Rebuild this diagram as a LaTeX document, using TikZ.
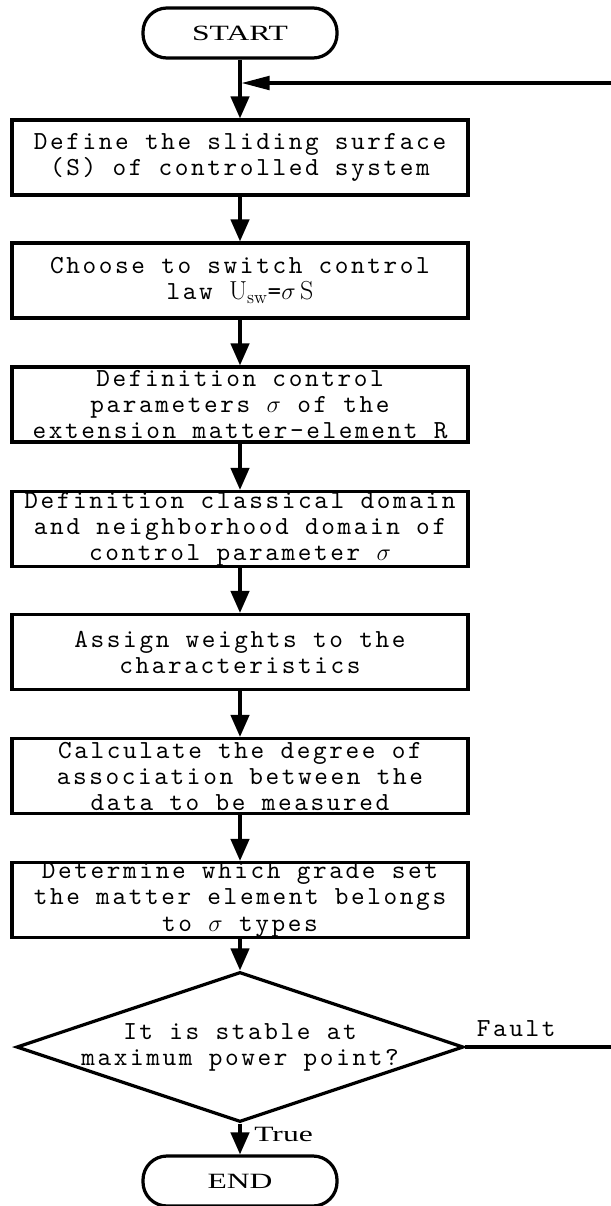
\documentclass[tikz,border=0pt]{standalone}
\usepackage{fontspec}
\usetikzlibrary{shapes.geometric,arrows.meta}
\newfontfamily\termfont[FakeStretch=1.45]{Liberation Serif}
\newfontfamily\boxfont[Extension=.otf,LetterSpace=10]{lmmono10-regular}
\tikzset{
  flow/.style={line width=2.3pt,-{Triangle[length=0.55cm,width=0.46cm]}},
  backflow/.style={line width=2.3pt,-{Triangle[length=0.7cm,width=0.34cm]}},
  plain/.style={line width=2.3pt},
  stepbox/.style={draw,line width=2.3pt,minimum width=11.4cm,minimum height=1.875cm,
    inner sep=0pt,align=center,font={\boxfont\fontsize{18.5pt}{18.5pt}\selectfont}},
  termbox/.style={draw,line width=2.3pt,rounded corners=0.6cm,minimum width=4.85cm,
    minimum height=1.25cm,inner sep=0pt,font={\termfont\fontsize{15.5pt}{18pt}\selectfont}},
  checkbox/.style={draw,diamond,line width=2.3pt,minimum width=11.175cm,minimum height=3.75cm,inner sep=0pt},
  monolabel/.style={inner sep=0pt,align=center,font={\boxfont\fontsize{18.5pt}{18.5pt}\selectfont}},
  termlabel/.style={inner sep=0pt,font={\termfont\fontsize{15.5pt}{18pt}\selectfont}}
}
\begin{document}
\begin{tikzpicture}[x=0.025cm,y=-0.025cm]
  \useasboundingbox (0,0) rectangle (611,1206);
  % nodos del diagrama
  \node[termbox] (start) at (240,33) {START};
  \node[stepbox] (surface) at (240,157.5) {Define the sliding surface\\(S) of controlled system};
  \node[stepbox] (law) at (240,280.5) {Choose to switch control\\law {\rmfamily U\textsubscript{sw}}=$\sigma$\,{\rmfamily S}};
  \node[stepbox] (param) at (240,404.5) {Definition control\\parameters $\sigma$ of the\\extension matter-element R};
  \node[stepbox] (domain) at (240,529) {Definition classical domain\\and neighborhood domain of\\control parameter $\sigma$};
  \node[stepbox] (weight) at (240,652) {Assign weights to the\\characteristics};
  \node[stepbox] (degree) at (240,776) {Calculate the degree of\\association between the\\data to be measured};
  \node[stepbox] (grade) at (240,900) {Determine which grade set\\the matter element belongs\\to $\sigma$ types};
  \node[checkbox] (check) at (240,1047) {};
  \node[monolabel] (checktext) at (240,1047) {It is stable at\\maximum power point?};
  \node[termbox] (end) at (240,1181) {END};
  \coordinate (merge) at (241.5,83);
  \coordinate (backin) at (611,83);
  \coordinate (faultout) at (611,1047);
  % flechas
  \draw[flow] (start) -- (surface);
  \draw[backflow] (backin) -- (merge);
  \draw[flow] (surface) -- (law);
  \draw[flow] (law) -- (param);
  \draw[flow] (param) -- (domain);
  \draw[flow] (domain) -- (weight);
  \draw[flow] (weight) -- (degree);
  \draw[flow] (degree) -- (grade);
  \draw[flow] (grade) -- (check);
  \draw[flow] (check) -- node[termlabel,right,xshift=9pt,yshift=3pt] (truetext) {True} (end);
  \draw[plain] (check.east) -- node[monolabel,above=6pt,pos=0.35] (faulttext) {Fault} (faultout);
\end{tikzpicture}
\end{document}
